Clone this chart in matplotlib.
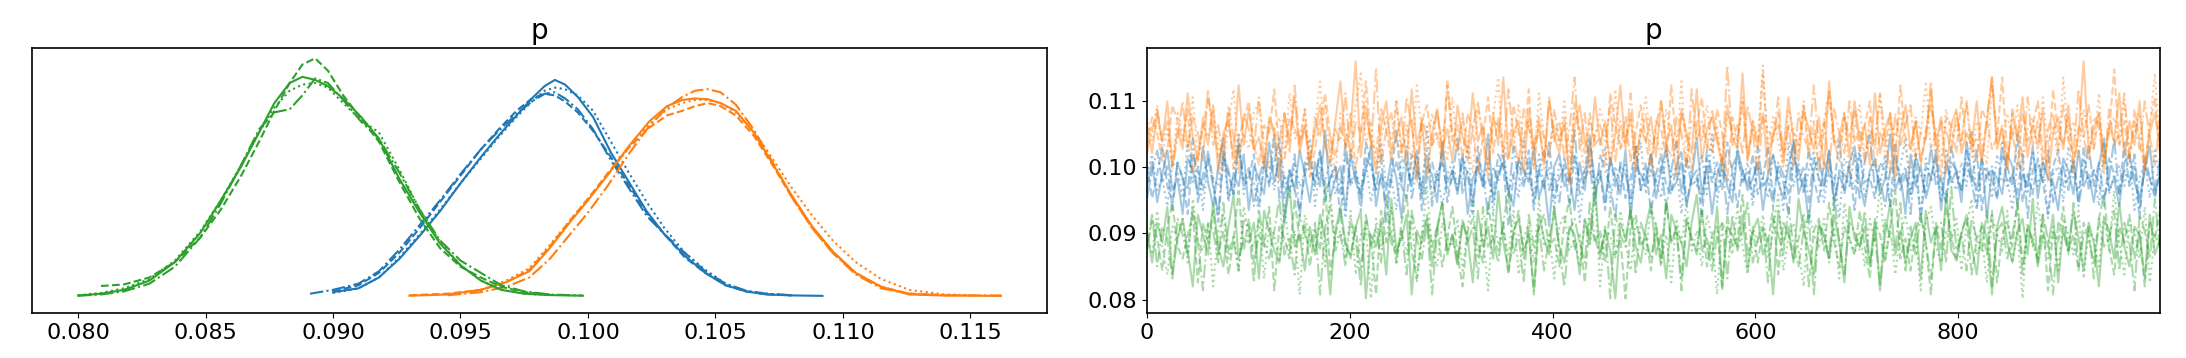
import numpy as np
import matplotlib
matplotlib.use("Agg")
import matplotlib.pyplot as plt

# colours per coordinate of p, line style per chain (arviz style)
colors = ["#1f77b4", "#ff7f0e", "#2ca02c"]
chain_styles = ["-", "--", ":", "-."]

# ---------------- left panel: KDE per chain ----------------
blue_x = [0.0891, 0.0900, 0.0910, 0.0918, 0.0926, 0.0934, 0.0942, 0.0950, 0.0958, 0.0965,
          0.0972, 0.0978, 0.0983, 0.0987, 0.0991, 0.0996, 0.1002, 0.1009, 0.1016, 0.1023,
          0.1030, 0.1038, 0.1046, 0.1054, 0.1062, 0.1070, 0.1080, 0.1092]
kde_blue_0 = [np.nan, 2.5, 5, 12, 24, 39, 55, 73, 90, 104, 117, 128, 136, 140, 137, 129, 116, 93,
              74, 55, 40, 26, 15, 7, 3, 1, 0.4, 0.1]
kde_blue_1 = [np.nan, 3, 7, 15, 28, 44, 61, 78, 95, 108, 120, 128, 131, 130, 126, 119, 107, 90,
              72, 54, 40, 25, 15, 7, 3, 1.2, 0.4, np.nan]
kde_blue_2 = [np.nan, 2, 5, 12, 25, 40, 56, 73, 89, 103, 116, 126, 133, 135, 134, 130, 120, 100,
              80, 61, 44, 28, 17, 8, 3, 1.5, 0.5, np.nan]
kde_blue_3 = [1.5, 4, 8, 16, 30, 46, 62, 79, 95, 107, 118, 126, 131, 132, 128, 121, 108, 88,
              70, 52, 40, 28, 16, 8, 3.5, 1.5, 0.5, np.nan]

orange_x = [0.0930, 0.0945, 0.0958, 0.0968, 0.0977, 0.0985, 0.0993, 0.1000, 0.1008, 0.1016,
            0.1024, 0.1031, 0.1037, 0.1042, 0.1047, 0.1052, 0.1058, 0.1065, 0.1072, 0.1080,
            0.1088, 0.1096, 0.1105, 0.1115, 0.1126, 0.1140, 0.1152, 0.1162]
kde_orange_0 = [0.2, 1, 4, 9, 16, 31, 48, 62, 79, 97, 113, 123, 127, 128, 127.5, 125, 120, 106,
                87, 65, 45, 29, 15, 6, 1, 0.3, 0.2, 0.1]
kde_orange_1 = [0.5, 1.5, 4, 9, 17, 32, 49, 63, 80, 96, 109, 117, 120, 123, 125, 123, 117, 104,
                86, 64, 44, 28, 15, 6, 1.5, 0.5, np.nan, np.nan]
kde_orange_2 = [np.nan, 1, 4, 10, 18, 33, 49, 63, 79, 96, 111, 121, 125, 127, 127, 125, 119, 107,
                90, 70, 52, 36, 22, 11, 4, 1, 0.5, np.nan]
kde_orange_3 = [np.nan, 0.5, 2.5, 6, 12, 24, 40, 54, 72, 92, 110, 122, 129, 133, 134, 132, 124, 108,
                88, 64, 44, 28, 14, 5, 1.5, 0.6, 0.4, 0.3]

green_x = [0.0800, 0.0809, 0.0818, 0.0828, 0.0838, 0.0848, 0.0856, 0.0864, 0.0871, 0.0877,
           0.0883, 0.0888, 0.0893, 0.0898, 0.0904, 0.0911, 0.0918, 0.0926, 0.0934, 0.0942,
           0.0950, 0.0958, 0.0966, 0.0975, 0.0985, 0.0998]
kde_green_0 = [0.3, 1.5, 4, 10, 22, 41, 62, 84, 106, 125, 138, 142, 140, 136, 128, 116, 102, 76,
               54, 34, 20, 10, 4, 1.5, 0.6, 0.2]
kde_green_1 = [np.nan, 6.5, 7.5, 12, 22, 38, 56, 78, 100, 120, 138, 150, 154, 146, 130, 115, 100,
               74, 50, 31, 19, 12, 6, 2.5, 1, np.nan]
kde_green_2 = [0.5, 2, 5, 11, 23, 42, 62, 85, 106, 122, 133, 137, 138, 135, 125, 114, 106, 82,
               56, 35, 20, 10, 4, 1.5, 0.6, np.nan]
kde_green_3 = [0.2, 1, 3, 8, 19, 38, 60, 85, 108, 119, 121, 130, 141, 138, 127, 113, 102, 80,
               56, 36, 23, 15, 7, 3, 1, 0.3]

# ---------------- right panel: draws (every 5th draw, offsets in units of 0.0006) ----------------
draws_total = 1000
unit = 0.0006
center_blue = 0.0983
center_orange = 0.1045
center_green = 0.0892

trace_blue_0 = [-2, 4, -6, 1, 7, -3, 0, -9, 5, 2, -4, 8, -1, -7, 3, 10, -5, 1, -2, 6,
                -8, 3, 0, -4, 9, -1, 5, -11, 2, -3, 7, 1, -6, 4, -2, 12, -5, 0, 3, -8,
                6, -1, -4, 2, 8, -7, 1, -3, 5, 0, -10, 4, -2, 7, -5, 3, 1, -6, 9, -1,
                2, -4, 6, -9, 0, 3, -2, 11, -6, 1, 4, -3, -7, 5, 2, -1, 8, -5, 0, -12,
                3, 6, -2, 1, -8, 4, -3, 9, -1, 2, -6, 5, 0, -4, 7, -10, 3, 1, -2, 6,
                -5, 2, 8, -3, -1, 4, -7, 0, 10, -4, 3, -9, 1, 5, -2, -6, 7, 2, -3, 0,
                4, -8, 1, 6, -1, -5, 3, 9, -4, 0, -11, 2, 5, -2, 7, -6, 1, -3, 4, 8,
                -1, -7, 2, 5, -4, 0, 11, -3, 1, -9, 6, -2, 3, -5, 0, 7, -8, 4, -1, 2,
                -6, 9, 1, -3, 5, -10, 2, 0, -4, 6, 3, -7, 1, -2, 8, -5, 4, 0, -1, -8,
                5, 2, -4, 7, -2, 1, -6, 3, 10, -3, 0, -7, 4, 6, -1, -5, 2, 8, -4, 1]
trace_blue_1 = [3, -5, 1, 8, -2, -6, 4, 0, -9, 6, 2, -3, 7, -1, -11, 5, 1, -4, 9, -2,
                0, 6, -7, 3, -1, 4, 10, -5, 2, -3, -8, 1, 5, -2, 7, -4, 0, 3, -10, 6,
                -1, 2, -5, 9, 4, -3, 0, -7, 1, 12, -2, -5, 6, 3, -8, 0, 4, -1, 7, -6,
                2, -3, 5, 1, -9, 8, -2, 0, -4, 6, 3, -12, 1, 4, -1, 7, -6, 2, -3, 9,
                -5, 0, 3, -7, 6, -1, 2, 11, -4, 1, -8, 5, -2, 3, -5, 0, 8, -3, 4, -9,
                1, 6, -2, -4, 3, 7, -6, 0, 2, -10, 5, -1, 4, -3, 9, 1, -7, 2, -2, 6,
                -4, 0, 8, -5, 3, -1, -9, 5, 2, -3, 7, 0, -6, 4, 1, -2, 10, -4, 3, -8,
                6, -1, 0, -5, 4, 2, -7, 9, -3, 1, -4, 6, -11, 3, 0, 5, -2, -6, 8, 1,
                -3, 4, -1, 7, -8, 2, 0, -5, 6, 3, -2, 11, -6, 1, -4, 5, -1, -9, 3, 7,
                -2, 0, 4, -6, 8, -3, 2, -1, -7, 5, 1, -4, 9, -2, 3, -10, 6, 0, -5, 2]
trace_blue_2 = [1, 6, -3, 0, -7, 4, 2, -5, 9, -1, 3, -8, 5, 0, -2, 7, -6, 1, 11, -4,
                2, -1, -9, 6, 3, -3, 8, 0, -5, 4, -2, 1, 10, -7, 3, -1, 5, -4, 0, -10,
                7, 2, -3, 4, -6, 1, 9, -2, 0, -8, 5, 3, -1, 6, -4, 13, -5, 2, -7, 1,
                4, -2, 0, 8, -6, 3, -1, 5, -9, 2, 7, -3, 1, -5, 10, 0, -4, 6, -2, 3,
                -8, 4, 1, -1, 6, -11, 2, 5, -3, 0, 8, -6, 3, -2, 4, -7, 1, 9, -4, 2,
                -1, -5, 7, 0, 3, -9, 5, 1, -2, 6, -4, 11, -6, 2, 0, -3, 8, -1, 4, -7,
                3, 0, -5, 6, 1, -8, 9, -2, 4, -4, 2, 7, -1, -6, 3, 0, -10, 5, 2, -3,
                8, -5, 1, 4, -2, 6, -7, 0, 3, 10, -4, 1, -9, 5, -1, 2, -6, 7, 0, -3,
                4, -2, 12, -7, 1, 3, -5, 6, -1, 0, -8, 4, 2, -4, 7, -2, 5, -10, 1, 3,
                -6, 8, 0, -3, 5, -1, 2, -7, 9, -4, 1, 3, -2, 6, -8, 0, 4, -5, 7, -1]
trace_blue_3 = [-5, 2, 7, -1, 3, -8, 4, 0, -3, 10, -6, 1, 5, -2, -9, 6, 2, -4, 8, -1,
                3, -7, 0, 5, -2, 11, -5, 1, -3, 6, -10, 4, 2, -1, 7, -6, 0, 3, -4, 9,
                -2, 1, -8, 5, 3, -3, 6, -11, 0, 4, -1, 8, -5, 2, -2, 7, -7, 1, 4, -3,
                0, 10, -4, 2, -6, 5, 1, -9, 3, -1, 6, -5, 8, 0, -2, 4, -8, 2, 7, -3,
                1, -6, 5, -1, 12, -4, 0, 3, -7, 6, 2, -2, -10, 4, 1, -5, 8, -3, 0, 6,
                -1, 3, -8, 2, 9, -4, 5, -2, 0, -6, 7, 1, -3, 4, -9, 3, 6, -1, 2, -5,
                8, -2, 0, -7, 4, 1, -4, 10, -1, 3, -6, 5, 0, -3, 7, -8, 2, 1, -2, 6,
                -5, 4, 11, -3, 0, -7, 2, 5, -1, 3, -9, 6, 1, -4, 8, -2, 0, -6, 4, 2,
                -3, 7, -1, -8, 5, 0, 3, -5, 9, -2, 1, -4, 6, -10, 2, 4, -1, 7, -6, 0,
                3, -3, 5, -7, 1, 8, -2, 4, -5, 0, 10, -4, 2, -1, 6, -8, 3, 0, -3, 5]

trace_orange_0 = [3, -4, 6, -1, 9, -7, 2, -3, 11, 0, -6, 5, -2, 8, -9, 1, 4, -5, 13, -2,
                  7, -3, 0, -8, 5, 2, -11, 6, -1, 10, -4, 3, -6, 1, 8, -2, -7, 4, 14, -3,
                  2, 19, -5, 6, -1, -9, 3, 9, -4, 0, 5, -7, 12, -2, 4, -10, 1, 7, -3, 2,
                  -6, 8, 0, -4, 11, -1, 3, -8, 6, -2, 15, -5, 1, 4, -9, 7, -3, 2, -6, 9,
                  0, -4, 5, -12, 3, 8, -1, -5, 10, -2, 4, -7, 1, 13, -3, 6, -8, 2, -1, 5,
                  -5, 9, -2, 3, -10, 7, 1, -4, 12, -6, 2, 5, -1, -7, 8, 0, -3, 16, -5, 4,
                  -2, 6, -9, 1, 3, -4, 10, -1, -6, 7, 2, -3, 5, -8, 14, -2, 0, 6, -5, 9,
                  -1, 3, -7, 11, -4, 2, 6, -10, 1, 8, -3, 4, -6, 0, 12, -2, 5, -9, 3, 7,
                  -4, 1, -2, 9, -6, 4, 15, -3, 2, -8, 6, -1, 10, -5, 3, -2, 7, -11, 1, 5,
                  -3, 8, -6, 0, 19, -4, 2, 6, -7, 3, -1, 11, -5, 4, -2, 9, -8, 1, 6, -3]
trace_orange_1 = [-2, 5, 1, -6, -3, 8, 4, -1, 7, -9, -4, 2, 10, 3, -5, -1, 6, -8, 0, 4,
                  9, -2, -7, 3, 1, 12, -4, -6, 5, 2, -1, 7, -10, -3, 4, 11, 0, -5, 3, -2,
                  6, -8, 1, 14, -1, -4, 7, 2, -6, 9, -3, 0, 5, -11, 4, 8, -2, 1, -7, 13,
                  -1, 3, -5, 6, 2, -9, 0, 10, -4, 5, -2, -6, 8, 1, -3, 12, -8, 4, 0, -5,
                  7, -1, 3, -10, 9, 2, -4, 6, -2, 0, -7, 11, 3, -3, 5, -6, 1, 8, -1, -9,
                  4, 2, -5, 13, -3, 6, 0, -8, 3, 10, -2, -4, 7, 1, -11, 5, -1, 9, -6, 2,
                  -3, 16, -4, 0, 6, -7, 3, 1, -2, 8, -5, 4, -9, 2, 11, -1, -6, 5, 0, 7,
                  -4, 3, 9, -8, 1, -2, 6, -5, 13, 0, -3, 4, -7, 2, 8, -1, -10, 5, 3, -4,
                  10, -2, 1, -6, 7, 4, -3, 0, 15, -5, 2, -8, 6, -1, 3, 9, -4, -7, 12, 1,
                  -2, 5, -9, 3, 0, 8, -3, 6, -5, 1, 17, -2, 4, -6, 7, -1, -8, 3, 10, -4]
trace_orange_2 = [5, -1, 8, -4, 2, -7, 6, 1, -3, 10, -6, 3, 0, 7, -2, -9, 4, 12, -5, 1,
                  -3, 6, 9, -1, -8, 2, 5, -4, 11, 0, -2, 7, -6, 3, 14, -3, 1, -10, 6, 2,
                  -4, 8, 16, -2, 4, -7, 0, 5, -1, 9, -5, 3, -8, 13, 1, -3, 6, -1, 2, -6,
                  10, -4, 4, 0, -9, 7, 2, -2, 5, 15, -6, 1, -3, 8, -1, 4, -7, 11, 0, -4,
                  3, -2, 9, -5, 6, 1, -11, 4, -1, 7, 2, -6, 12, -3, 0, 5, -8, 3, 10, -2,
                  1, -5, 7, 0, -3, 14, -7, 4, 2, -1, 8, -4, 3, -9, 6, 1, -2, 10, -6, 4,
                  0, 18, -3, 5, -1, -8, 7, 2, -4, 9, -2, 1, -6, 4, 12, -1, -3, 6, -10, 3,
                  8, -5, 2, -1, 11, -7, 4, 0, 6, -3, -9, 5, 1, 14, -4, 2, -6, 7, -1, 3,
                  -2, 9, -5, 4, 0, -7, 13, 1, -3, 6, -1, 8, -8, 2, 5, -4, 10, -2, 3, -6,
                  15, -1, 4, -5, 7, 0, -3, 11, -7, 2, 5, -2, 9, -4, 1, 6, -9, 3, 16, -1]
trace_orange_3 = [-4, 2, 7, -1, 4, -8, 0, 9, -3, 5, 1, -6, 12, -2, 3, -5, 8, 0, -9, 6,
                  2, -3, 10, -7, 4, 1, -1, 6, -4, 13, -2, 3, -8, 5, 0, 8, -5, 2, -1, 11,
                  -6, 4, 1, 9, -3, 17, -7, 2, 6, -1, -4, 10, 3, -9, 5, 0, -2, 7, -5, 14,
                  1, -3, 6, -6, 2, 9, -1, -10, 4, 3, -4, 12, 0, -7, 7, 2, -2, 5, -8, 10,
                  -1, 4, -5, 2, 15, -3, 6, -9, 1, 3, -1, 8, -6, 4, -2, 11, -4, 0, 6, -7,
                  3, 9, -2, -5, 5, 1, -8, 12, -1, 4, -3, 7, 0, -6, 18, -2, 3, -4, 8, 1,
                  -9, 5, 2, -1, 10, -5, 3, -7, 6, 0, -3, 13, -2, 4, -8, 7, 1, -4, 9, -1,
                  2, -6, 5, -3, 11, 0, -9, 6, -2, 3, 8, -5, 1, -1, 14, -7, 4, 2, -4, 6,
                  -1, 9, -3, 0, -6, 5, 15, -2, 3, -8, 7, 1, -5, 10, -2, 4, -7, 2, 6, -3,
                  8, -1, -4, 12, 0, -6, 5, 3, -9, 7, -2, 1, 11, -5, 4, -3, 9, 0, -7, 5]

trace_green_0 = [2, -6, 4, -1, 8, -9, 0, 5, -3, -12, 6, 1, -4, 9, -2, -7, 3, 11, -5, 0,
                 -1, 4, -10, 7, 2, -3, -6, 5, 13, -2, 1, -8, 3, -4, 6, 0, -14, 2, 8, -1,
                 -5, 3, 7, -15, 1, -2, 4, -9, 10, -3, 0, 6, -14, 2, -1, 5, -7, 3, 9, -4,
                 1, -6, 4, 0, -11, 7, -2, 3, -5, 12, -1, -8, 2, 5, -3, 1, -13, 6, 0, -4,
                 8, -2, -6, 3, 1, -9, 5, -1, 14, -5, 2, -3, -15, 4, 0, 7, -2, -6, 3, 9,
                 -4, 1, -10, 6, 2, -1, -7, 4, 11, -3, 0, -5, 8, -12, 3, 1, -2, 6, -8, 2,
                 5, -4, 0, -14, 7, -1, 3, -6, 10, 2, -3, -9, 4, 1, -5, 6, -1, -11, 8, 0,
                 -2, 3, -7, 5, -13, 1, 9, -4, 2, -6, 0, 4, -10, 7, -1, 3, -8, 12, -3, -5,
                 1, 6, -2, -9, 4, 0, -14, 3, 8, -1, -6, 2, 5, -4, 10, -7, 1, -2, 6, -11,
                 3, -3, 7, 0, -8, 4, -1, -12, 5, 2, -5, 9, -2, -7, 3, 1, -10, 6, -4, 0]
trace_green_1 = [-3, 5, 0, -8, 3, 9, -2, -5, 1, 6, -11, 4, -1, 7, -4, 2, -9, 0, 12, -3,
                 5, -6, 1, -2, 8, -13, 3, 0, -5, 10, -1, 4, -7, 2, -3, 14, -9, 1, 6, -2,
                 -4, 3, -8, 5, 0, -14, 7, -1, 2, -6, 4, 11, -3, -10, 1, 6, -2, 3, -7, 0,
                 8, -4, -12, 2, 5, -1, -6, 9, 0, -3, 4, -9, 1, 7, -5, 2, -14, 3, 6, -2,
                 0, -7, 4, 10, -3, 1, -11, 5, -1, 2, -6, 8, -4, 0, -15, 3, 6, -2, 1, -8,
                 4, -5, 9, -1, 2, -10, 5, 0, -3, 7, -7, 1, 3, -13, 6, -2, 0, 11, -4, 2,
                 -6, 3, -1, 8, -9, 4, 1, -5, 0, 6, -12, 2, 5, -3, 9, -1, -7, 3, 0, -4,
                 7, -2, -10, 4, 1, -6, 3, 12, -5, 0, -8, 2, 6, -1, -14, 4, -3, 8, 1, -6,
                 2, 5, -9, 0, 3, -4, 7, -11, 1, 4, -2, 10, -7, 3, 0, -5, 6, -13, 2, -1,
                 8, -3, 1, -8, 4, 0, -6, 5, 11, -2, -9, 3, -1, 6, -5, 2, -12, 4, 0, 7]
trace_green_2 = [1, -4, 7, -2, -9, 3, 0, 5, -6, 10, -1, -3, 4, -12, 2, 6, -5, 1, -8, 8,
                 0, -2, 5, -10, 3, 1, -6, 9, -4, 2, -14, 6, 0, -3, 4, -7, 11, -1, 2, -5,
                 7, -9, 1, 3, -15, 5, -2, 0, 8, -6, 2, -4, 6, -11, 1, 13, -3, -7, 4, 0,
                 -2, 5, -8, 3, 9, -5, 1, -13, 6, -1, 2, -4, 7, -9, 0, 4, -6, 10, -2, 1,
                 -10, 3, 6, -3, 0, -7, 5, -2, 12, -12, 2, 1, -5, 7, -1, -8, 4, 0, -4, 8,
                 3, -6, 1, -11, 5, -1, 9, -3, 2, -7, 6, 0, -14, 4, 1, -4, 8, -2, -9, 3,
                 -1, 6, -5, 2, 11, -8, 0, 4, -3, -12, 7, 1, -2, 5, -6, 3, -10, 9, 0, -4,
                 2, -7, 5, -1, 14, -5, 3, -9, 1, 6, -3, 0, -13, 4, 8, -2, -6, 2, -1, 5,
                 -8, 3, 10, -4, 0, -11, 6, 1, -3, 7, -6, 2, -15, 4, -2, 9, 0, -5, 3, -8,
                 5, 1, -4, 7, -10, 2, 0, -7, 6, -3, 12, -1, -9, 4, 2, -5, 8, -11, 1, -2]
trace_green_3 = [-2, 6, -7, 3, 0, -10, 5, 1, -4, 8, -1, -13, 4, 2, -6, 9, -3, 0, -8, 5,
                 3, -11, 7, -1, -5, 2, 10, -4, 0, -9, 6, 1, -2, 4, -14, 3, 8, -3, 1, -7,
                 5, 0, -12, 6, -2, 3, -6, 11, -1, -4, 2, -9, 7, 0, -5, 4, -14, 2, 9, -3,
                 1, -7, 5, -1, 3, -10, 8, -2, 0, -6, 4, 12, -4, 1, -11, 6, -2, 3, -8, 0,
                 7, -3, -12, 2, 5, -1, -6, 9, 0, -4, 3, -15, 6, 1, -2, 8, -9, 4, 0, -5,
                 2, -7, 10, -1, 3, -13, 5, 0, -4, 7, -2, -8, 1, 4, -10, 6, -3, 2, 9, -6,
                 0, 3, -11, 5, 1, -4, 8, -2, -7, 2, 6, -14, 3, 0, -5, 11, -1, -9, 4, 2,
                 -3, 7, -6, 1, -12, 5, 0, -2, 9, -8, 3, -4, 6, -1, -10, 2, 4, -6, 13, -3,
                 1, -8, 5, 0, -3, 7, -12, 2, 4, -5, 1, 8, -9, 3, -1, -6, 6, 0, -14, 4,
                 2, -4, 9, -7, 1, 3, -10, 5, -2, 0, 7, -8, 4, -1, -13, 6, 2, -5, 10, -3]

kde_groups = [
    (blue_x, [kde_blue_0, kde_blue_1, kde_blue_2, kde_blue_3]),
    (orange_x, [kde_orange_0, kde_orange_1, kde_orange_2, kde_orange_3]),
    (green_x, [kde_green_0, kde_green_1, kde_green_2, kde_green_3]),
]
trace_groups = [
    (center_blue, [trace_blue_0, trace_blue_1, trace_blue_2, trace_blue_3]),
    (center_orange, [trace_orange_0, trace_orange_1, trace_orange_2, trace_orange_3]),
    (center_green, [trace_green_0, trace_green_1, trace_green_2, trace_green_3]),
]

fs_tick = 16
fs_title = 20

fig = plt.figure(figsize=(21.86, 3.58), dpi=100)
ax_kde = fig.add_axes([0.0146, 0.1257, 0.4644, 0.7416])
ax_tr = fig.add_axes([0.5247, 0.1257, 0.4634, 0.7416])

# KDE panel
for color, (xs, chains) in zip(colors, kde_groups):
    for ls, dens in zip(chain_styles, chains):
        ax_kde.plot(xs, dens, color=color, linestyle=ls, linewidth=1.5)
ax_kde.set_yticks([])
ax_kde.set_ylim(-11, 161)
ax_kde.set_xticks([0.080, 0.085, 0.090, 0.095, 0.100, 0.105, 0.110, 0.115])
ax_kde.set_title("p", fontsize=fs_title)
ax_kde.tick_params(labelsize=fs_tick)

# trace panel
for color, (c, chains) in zip(colors, trace_groups):
    for ls, offs in zip(chain_styles, chains):
        vals = c + np.asarray(offs) * unit
        draw = np.linspace(0, draws_total - 1, len(vals))
        ax_tr.plot(draw, vals, color=color, linestyle=ls, linewidth=1.5, alpha=0.4)
ax_tr.set_xlim(0, draws_total - 1)
ax_tr.set_ylim(0.0780, 0.1180)
ax_tr.set_yticks([0.08, 0.09, 0.10, 0.11])
ax_tr.set_title("p", fontsize=fs_title)
ax_tr.tick_params(labelsize=fs_tick)

for ax in (ax_kde, ax_tr):
    for s in ax.spines.values():
        s.set_linewidth(1.2)

fig.savefig("out.png", dpi=100)
